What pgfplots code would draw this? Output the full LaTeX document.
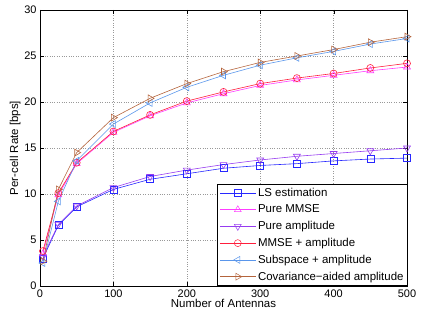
\documentclass[border=0pt]{standalone}
\usepackage{pgfplots}
\pgfplotsset{compat=1.18}
\usepackage{fontspec}
\setmainfont{Liberation Sans}
\definecolor{cLS}{RGB}{40,40,255}
\definecolor{cMMSE}{RGB}{255,60,255}
\definecolor{cAmp}{RGB}{150,60,240}
\definecolor{cMA}{RGB}{255,30,60}
\definecolor{cSub}{RGB}{90,150,235}
\definecolor{cCov}{RGB}{180,100,60}
\begin{document}
\begin{tikzpicture}
\begin{axis}[
    scale only axis,
    width=367bp,
    height=276bp,
    xmin=0, xmax=500,
    ymin=0, ymax=30,
    xtick={0,100,...,500},
    ytick={0,5,...,30},
    grid=major,
    major grid style={dotted, gray!80, line width=0.5pt},
    tick align=inside,
    tick style={black},
    axis line style={black},
    ticklabel style={font=\fontsize{11}{12}\selectfont},
    /pgf/number format/assume math mode=true,
    xlabel={Number of Antennas},
    ylabel={Per-cell Rate [bps]},
    label style={font=\fontsize{11.5}{13}\selectfont},
    xlabel style={yshift=5pt},
    ylabel style={yshift=-3pt},
    legend cell align=left,
    legend style={at={(1,0)}, anchor=south east, xshift=1bp,
        font=\fontsize{11.5}{13}\selectfont, draw=black, line width=0.9pt,
        row sep=3pt, inner sep=2pt},
    legend image code/.code={
        \draw[line width=0.5pt, mark repeat=2, mark phase=2]
            plot coordinates {(0bp,0bp) (18bp,0bp) (36bp,0bp)};
    },
    every axis plot/.append style={line width=0.6pt, mark size=3.5bp, mark options={solid, fill=none}},
]
\addplot[color=cLS, mark=square] coordinates {
    (4,3.0) (25,6.6) (50,8.6) (100,10.5) (150,11.6) (200,12.2) (250,12.8)
    (300,13.1) (350,13.3) (400,13.6) (450,13.8) (500,13.9)
};
\addplot[color=cMMSE, mark=triangle, mark size=4bp] coordinates {
    (4,3.5) (25,9.9) (50,13.3) (100,16.7) (150,18.5) (200,19.9) (250,20.9)
    (300,21.8) (350,22.4) (400,22.9) (450,23.4) (500,23.8)
};
\addplot[color=cAmp, mark=triangle, mark size=4bp, mark options={rotate=180}] coordinates {
    (4,3.2) (25,6.7) (50,8.7) (100,10.7) (150,11.9) (200,12.6) (250,13.2)
    (300,13.7) (350,14.1) (400,14.4) (450,14.7) (500,15.0)
};
\addplot[color=cMA, mark=o] coordinates {
    (4,3.8) (25,10.1) (50,13.4) (100,16.8) (150,18.6) (200,20.1) (250,21.1)
    (300,22.0) (350,22.6) (400,23.1) (450,23.7) (500,24.2)
};
\addplot[color=cSub, mark=triangle, mark size=4bp, mark options={rotate=90}] coordinates {
    (4,2.5) (25,9.2) (50,13.6) (100,17.6) (150,19.9) (200,21.6) (250,22.9)
    (300,24.0) (350,24.8) (400,25.5) (450,26.3) (500,26.9)
};
\addplot[color=cCov, mark=triangle, mark size=4bp, mark options={rotate=-90}] coordinates {
    (4,2.7) (25,10.5) (50,14.5) (100,18.3) (150,20.4) (200,22.0) (250,23.3)
    (300,24.3) (350,25.0) (400,25.7) (450,26.5) (500,27.1)
};
\legend{LS estimation, Pure MMSE, Pure amplitude, MMSE + amplitude, Subspace + amplitude, Covariance−aided amplitude}
\end{axis}
\path (current axis.south west) ++(-40bp,-35bp) coordinate (bl);
\path (current axis.north east) ++(36bp,10bp) coordinate (tr);
\useasboundingbox (bl) rectangle (tr);
\end{tikzpicture}
\end{document}
